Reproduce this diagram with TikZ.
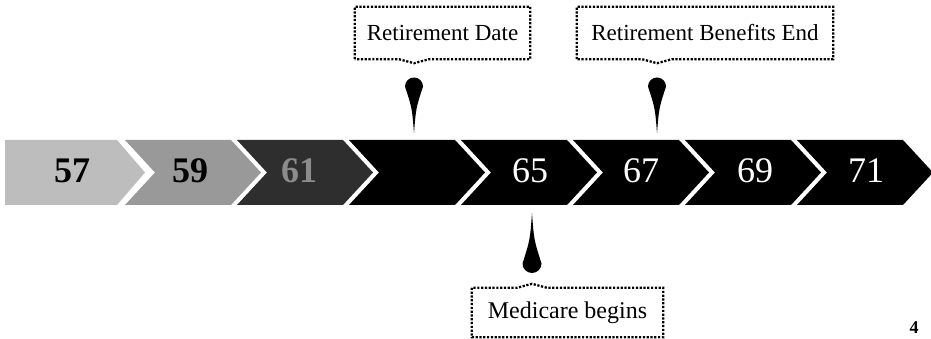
\documentclass[tikz,border=0pt]{standalone}
\usepackage{fontspec}
\setmainfont{Liberation Serif}
\usepackage{tikz}
\usepackage{xcolor}
\usetikzlibrary{calc}
\definecolor{stepone}{gray}{0.74}
\definecolor{steptwo}{gray}{0.60}
\definecolor{stepthree}{gray}{0.18}
\colorlet{stepfour}{black}
\colorlet{dimtext}{white!55!black}
\newcommand{\chev}[2]{% chevron with notch, left x and colour
\fill[#2] (#1,199) -- ++(106,0) -- ++(30,-32.5) -- ++(-30,-32.5) -- ++(-106,0) -- ++(30,32.5) -- cycle;}
\tikzstyle{yearnum} = [
    font=\fontsize{36}{40}\selectfont,
    inner sep=0pt,
    anchor=base
    ]
\tikzstyle{notetext} = [
    font=\fontsize{23}{27}\selectfont,
    inner sep=0pt
    ]
\tikzstyle{dotbox} = [
    line width=2.3pt,
    dash pattern=on 2.2pt off 1.6pt
    ]

\begin{document}
\begin{tikzpicture}[x=1pt,y=1pt]
\useasboundingbox (0,0) rectangle (931,339);

% the band of years
\fill[stepone] (5,199) -- (117,199) -- (145,166.5) -- (117,134) -- (5,134) -- cycle;
\chev{125}{steptwo}
\chev{237}{stepthree}
\chev{349}{stepfour}
\chev{461}{stepfour}
\chev{573}{stepfour}
\chev{685}{stepfour}
\chev{797}{stepfour}

\node[yearnum, font=\fontsize{36}{40}\selectfont\bfseries] (y57) at (72,156) {57};
\node[yearnum, font=\fontsize{36}{40}\selectfont\bfseries] (y59) at (190,156) {59};
\node[yearnum, font=\fontsize{36}{40}\selectfont\bfseries, text=dimtext] (y61) at (299,156) {61};
\node[yearnum, text=white] (y65) at (530,156) {65};
\node[yearnum, text=white] (y67) at (641,156) {67};
\node[yearnum, text=white] (y69) at (755,156) {69};
\node[yearnum, text=white] (y71) at (866,156) {71};

% pins
\coordinate (rdtip) at (414,206);
\coordinate (betip) at (657,206);
\coordinate (mctip) at (532,126);
\fill (rdtip) .. controls ($(rdtip)+(-2,25)$) .. ($(rdtip)+(-9,46.5)$)
    arc[start angle=180, end angle=0, radius=9]
    .. controls ($(rdtip)+(2,25)$) .. (rdtip);
\fill (betip) .. controls ($(betip)+(-2,25)$) .. ($(betip)+(-9,46.5)$)
    arc[start angle=180, end angle=0, radius=9]
    .. controls ($(betip)+(2,25)$) .. (betip);
\fill (mctip) .. controls ($(mctip)+(-2,-27)$) .. ($(mctip)+(-9.5,-50.5)$)
    arc[start angle=180, end angle=360, radius=9.5]
    .. controls ($(mctip)+(2,-27)$) .. (mctip);

% callouts
\node[notetext, minimum width=175pt, minimum height=52pt] (rdate) at (442.5,306) {Retirement Date};
\node[notetext, minimum width=256pt, minimum height=52pt] (bend) at (705,306) {Retirement Benefits End};
\node[notetext, minimum width=191pt, minimum height=49pt, font=\fontsize{24}{28}\selectfont] (mcare) at (567.5,26.5) {Medicare begins};

\draw[dotbox] (rdate.south west) -- (rdate.north west) -- (rdate.north east) -- (rdate.south east)
    -- ($(rdate.south -| rdtip)+(15,0)$) -- ($(rdate.south -| rdtip)+(0,-4)$)
    -- ($(rdate.south -| rdtip)+(-15,0)$) -- cycle;
\draw[dotbox] (bend.south west) -- (bend.north west) -- (bend.north east) -- (bend.south east)
    -- ($(bend.south -| betip)+(15,0)$) -- ($(bend.south -| betip)+(0,-4)$)
    -- ($(bend.south -| betip)+(-15,0)$) -- cycle;
\draw[dotbox] (mcare.north west) -- (mcare.south west) -- (mcare.south east) -- (mcare.north east)
    -- ($(mcare.north -| mctip)+(15,0)$) -- ($(mcare.north -| mctip)+(0,4)$)
    -- ($(mcare.north -| mctip)+(-15,0)$) -- cycle;

\node[font=\fontsize{18}{22}\selectfont\bfseries, inner sep=0pt, anchor=base] (pnum) at (914,5) {4};
\end{tikzpicture}
\end{document}
